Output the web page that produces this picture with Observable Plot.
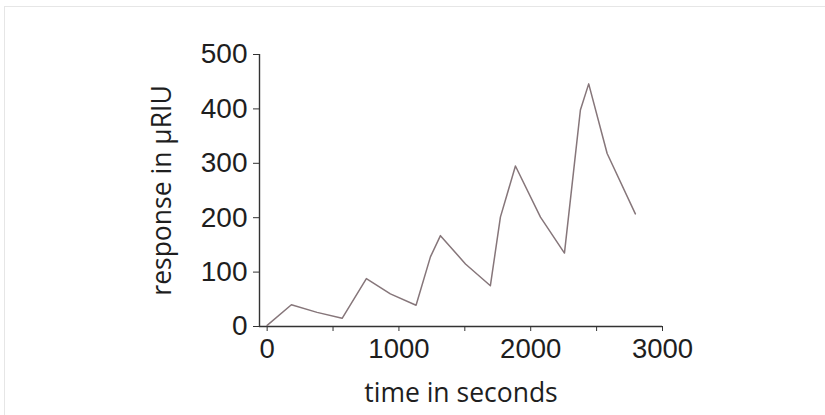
<!DOCTYPE html>
<html>
<head>
<meta charset="utf-8">
<script src="https://cdn.jsdelivr.net/npm/d3@7"></script>
<script src="https://cdn.jsdelivr.net/npm/@observablehq/plot@0.6"></script>
<style>
  html, body { margin: 0; padding: 0; background: #ffffff; }
  #frame { position: absolute; left: 4px; top: 6px; width: 830px; height: 420px; border: 1px solid #e6e6e6; box-sizing: border-box; }
  #chart { position: absolute; left: 0; top: 0; }
</style>
</head>
<body>
<div id="frame"></div>
<div id="chart"></div>
<script>
// time in seconds
const time = [0, 184, 379, 569, 753, 935, 1130, 1239, 1315, 1505, 1694, 1770, 1884, 2074, 2256, 2326, 2377, 2440, 2580, 2794];
// response in µRIU
const response = [2, 40, 26, 15, 88, 60, 39, 128, 167, 115, 75, 201, 295, 201, 135, 287, 398, 446, 318, 207];
const xTicks = [0, 500, 1000, 1500, 2000, 2500, 3000];
const yTicks = [0, 100, 200, 300, 400, 500];
const xMin = -58, xMax = 3000, yMin = 0, yMax = 500;

const data = time.map((t, i) => ({t, r: response[i]}));
const tickFont = "'Liberation Sans', Arial, sans-serif";
const labelFont = "'Open Sans', 'Noto Sans', sans-serif";

const chart = Plot.plot({
  width: 825,
  height: 415,
  marginLeft: 259,
  marginRight: 163,
  marginTop: 54,
  marginBottom: 89,
  style: {background: "transparent", color: "#1e1e1e"},
  x: {domain: [xMin, xMax]},
  y: {domain: [yMin, yMax]},
  marks: [
    Plot.ruleY([yMin], {stroke: "#333", strokeWidth: 1.4}),
    Plot.ruleX([xMin], {stroke: "#333", strokeWidth: 1.4}),
    Plot.axisX({ticks: xTicks, tickFormat: d => d % 1000 === 0 ? String(d) : "", tickSize: 5, tickPadding: 7, fontSize: 27.5, fontFamily: tickFont, label: null, stroke: "#333"}),
    Plot.axisY({ticks: yTicks, tickFormat: d => String(d), tickSize: 6, tickPadding: 6, fontSize: 28, fontFamily: tickFont, label: null, stroke: "#333"}),
    Plot.line(data, {x: "t", y: "r", stroke: "#86767a", strokeWidth: 1.5, strokeLinejoin: "round"}),
    Plot.text(["time in seconds"], {frameAnchor: "bottom", dy: 75, fontSize: 26.5, fontFamily: labelFont, fill: "#1e1e1e"}),
    Plot.text(["response in µRIU"], {frameAnchor: "left", textAnchor: "middle", dx: -97, rotate: -90, fontSize: 26.5, fontFamily: labelFont, fill: "#1e1e1e"})
  ]
});
document.getElementById("chart").appendChild(chart);
</script>
</body>
</html>
